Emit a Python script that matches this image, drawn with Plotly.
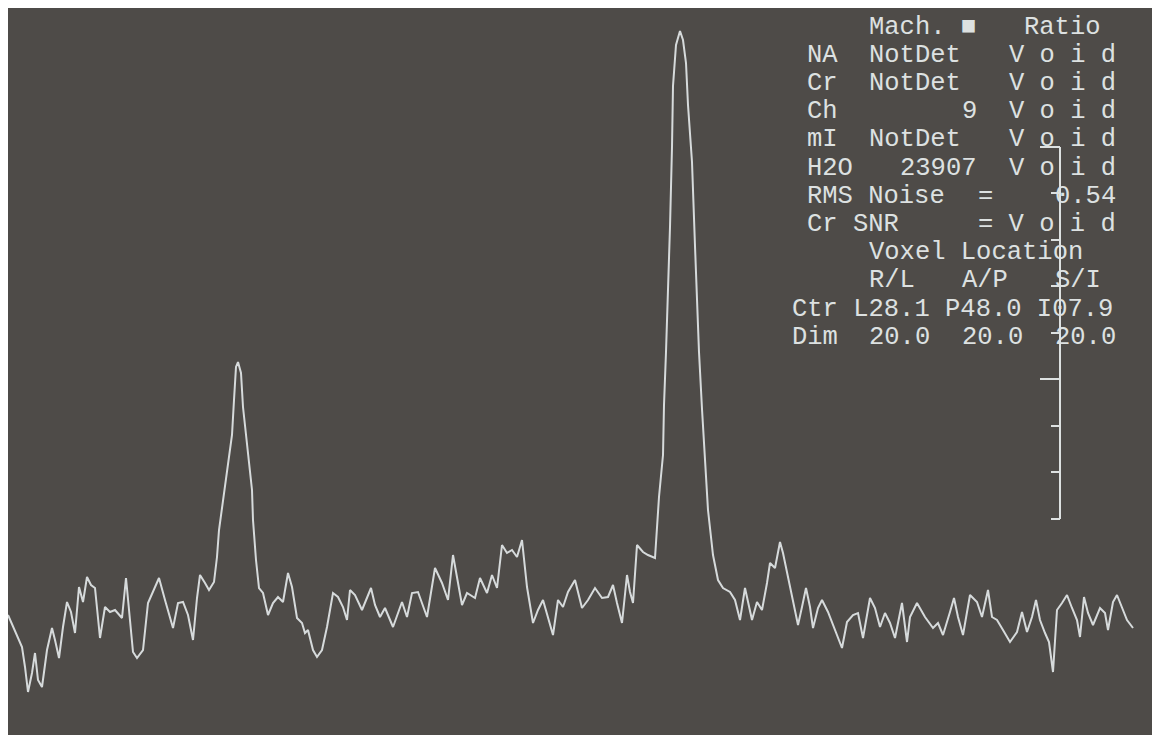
import re
import plotly.graph_objects as go

# ---------------- data ----------------
# spectrum: channel position (left = 0) and signal amplitude (arbitrary units)
channel = [
    0, 5, 10, 14, 17, 20, 24, 27, 30, 34, 39, 44, 47, 51, 55, 59, 63, 67, 71, 75,
    79, 83, 87, 92, 97, 102, 107, 114, 118, 122, 125, 129, 135, 140, 145, 151, 157, 165, 170, 175,
    180, 185, 189, 192, 197, 201, 206,
    209, 211, 214, 217, 220, 224, 226, 228, 230, 233, 235, 238, 241, 244, 245, 248, 251,
    255, 260, 265, 270, 275, 280, 284, 289, 294, 297, 300, 305, 309, 314, 319, 325, 330, 335, 339, 342,
    347, 354, 359, 363, 367, 372, 377, 385,
    394, 399, 404, 410, 419, 427, 434, 440, 445, 449, 454, 459, 467, 472, 479, 484, 489, 494, 499, 504,
    509, 514, 519, 525, 530, 535, 540, 545, 550, 555, 560, 567, 574, 580, 587, 594, 600, 605, 609, 614,
    619, 622, 625, 629, 635, 640, 647,
    649, 651, 655, 656, 658, 660, 662, 664, 665, 668, 672, 675, 678, 680, 684, 687, 689, 691, 694, 697,
    700, 705, 710, 715, 722, 727,
    732, 737, 740, 744, 749, 754, 759, 762, 767, 772, 775, 780, 785, 790, 794, 798, 802, 805, 810, 814,
    820, 827, 834, 839, 845, 850, 855, 862, 867, 872, 877, 882, 887, 894, 899, 902, 909, 917, 925, 930,
    935, 942, 946, 950, 955, 962, 969, 974, 977, 980, 984, 989, 995, 1002, 1009, 1014, 1019, 1024, 1028, 1032,
    1037, 1041, 1045, 1049, 1054, 1059, 1064, 1069, 1072, 1076, 1080, 1085, 1092, 1097, 1100, 1105, 1109, 1114,
    1119, 1125,
]
signal = [
    120, 108, 97, 88, 68, 43, 62, 82, 55, 48, 85, 107, 95, 77, 108, 133, 123, 102, 148, 133,
    158, 150, 147, 97, 128, 123, 125, 117, 157, 118, 83, 77, 85, 132, 143, 157, 135, 107, 132, 133,
    120, 95, 137, 160, 152, 145, 153,
    178, 205, 228, 252, 275, 300, 335, 368, 373, 362, 328, 298, 272, 245, 215, 175, 147,
    142, 120, 132, 138, 133, 162, 148, 117, 112, 102, 105, 85, 78, 85, 108, 142, 138, 128, 115, 145,
    140, 125, 137, 147, 130, 118, 127, 108,
    133, 118, 142, 143, 118, 167, 152, 135, 180, 158, 130, 142, 137, 157, 142, 160, 147, 190, 182, 185,
    178, 195, 148, 112, 125, 135, 118, 100, 135, 128, 143, 155, 127, 135, 147, 137, 138, 150, 132, 112,
    160, 143, 132, 190, 183, 180, 177,
    208, 238, 280, 330, 383, 440, 508, 588, 649, 690, 704, 695, 672, 630, 573, 489, 436, 383, 326, 276,
    225, 180, 155, 147, 143, 135,
    115, 147, 132, 115, 133, 125, 152, 172, 167, 193, 182, 157, 135, 110, 128, 147, 128, 107, 127, 135,
    123, 105, 87, 113, 120, 122, 97, 137, 127, 108, 122, 112, 97, 132, 93, 118, 132, 118, 107, 112,
    100, 123, 137, 118, 100, 140, 133, 118, 130, 145, 118, 115, 105, 93, 103, 123, 103, 118, 135, 115,
    102, 93, 63, 125, 132, 140, 127, 115, 98, 138, 122, 110, 127, 122, 105, 133, 140, 128,
    115, 107,
]

# vertical amplitude scale bar (tick levels, signal units)
scale_ticks = [588, 542, 495, 449, 402, 356, 309, 263, 216]
scale_major = [588, 356]

# readout panel (fixed-pitch terminal text)
panel_lines = [
    "     Mach. \u25a0   Ratio",
    " NA  NotDet   V o i d",
    " Cr  NotDet   V o i d",
    " Ch        9  V o i d",
    " mI  NotDet   V o i d",
    " H2O   23907  V o i d",
    " RMS Noise  =    0.54",
    " Cr SNR     = V o i d",
    "     Voxel Location",
    "     R/L   A/P   S/I",
    "Ctr L28.1 P48.0 I07.9",
    "Dim  20.0  20.0  20.0",
]

# ---------------- styling ----------------
BG = "#4e4b48"
TRACE = "#d6dadb"
TEXT = "#dde1e1"
X_RANGE = [0, 1144]
Y_RANGE = [0, 727]
PANEL_LEFT = 781.5      # channel position of first text column
PANEL_PITCH = 15.5      # channel units per character
PANEL_TOP = 708         # signal level of first text row
PANEL_ROW = 28.2        # signal units per text row
BAR_X = 1052
MAJOR_LEN = 20
MINOR_LEN = 9

fig = go.Figure()
fig.add_trace(go.Scatter(
    x=channel, y=signal, mode="lines",
    line=dict(color=TRACE, width=2),
    hoverinfo="skip", showlegend=False,
))

shapes = [dict(type="line", xref="x", yref="y", x0=BAR_X, x1=BAR_X,
               y0=min(scale_ticks), y1=max(scale_ticks),
               line=dict(color=TEXT, width=2))]
for t in scale_ticks:
    ln = MAJOR_LEN if t in scale_major else MINOR_LEN
    shapes.append(dict(type="line", xref="x", yref="y", x0=BAR_X - ln, x1=BAR_X,
                       y0=t, y1=t, line=dict(color=TEXT, width=2)))

annotations = []
for r, line in enumerate(panel_lines):
    for m in re.finditer(r"\S+(?: \S+)*", line):
        annotations.append(dict(
            x=PANEL_LEFT + PANEL_PITCH * m.start(),
            y=PANEL_TOP - PANEL_ROW * r,
            xref="x", yref="y", xanchor="left", yanchor="middle",
            text=m.group(0), showarrow=False,
            font=dict(family="Liberation Mono", size=25.5, color=TEXT),
        ))

fig.update_layout(
    width=1152, height=735,
    margin=dict(l=8, r=0, t=8, b=0, pad=0),
    paper_bgcolor="white",
    plot_bgcolor=BG,
    xaxis=dict(range=X_RANGE, visible=False, fixedrange=True),
    yaxis=dict(range=Y_RANGE, visible=False, fixedrange=True),
    shapes=shapes,
    annotations=annotations,
    showlegend=False,
)

fig.write_html("out.html")
